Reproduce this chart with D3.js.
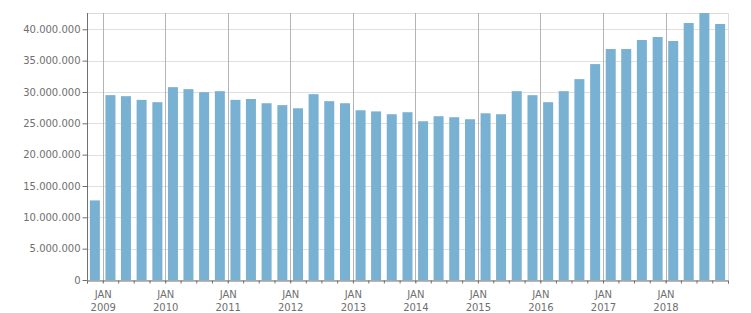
<!DOCTYPE html>
<html>
<head>
<meta charset="utf-8">
<script src="https://cdn.jsdelivr.net/npm/d3@7"></script>
<style>
  body { margin: 0; background: #fff; }
  svg text { font-family: "DejaVu Sans", Verdana, sans-serif; font-size: 10px; fill: #6f6f6f; }
</style>
</head>
<body>
<div id="chart"></div>
<script>
// quarters, Q4 2008 .. Q4 2018 (start month of each quarter)
const quarters = [];
for (let y = 2008; y <= 2018; y++) {
  for (let m = 0; m < 12; m += 3) {
    if (y === 2008 && m < 9) continue;
    quarters.push(new Date(y, m, 1));
  }
}

// values
const values = [
  12700000, 29500000, 29330000, 28740000, 28370000, 30770000, 30450000, 29970000,
  30130000, 28740000, 28880000, 28200000, 27900000, 27400000, 29650000, 28530000,
  28200000, 27080000, 26900000, 26450000, 26770000, 25330000, 26130000, 25970000,
  25650000, 26600000, 26450000, 30130000, 29490000, 28370000, 30130000, 32050000,
  34450000, 36850000, 36850000, 38290000, 38770000, 38130000, 41000000, 42600000,
  40850000
];

const yTicks = [0, 5e6, 10e6, 15e6, 20e6, 25e6, 30e6, 35e6, 40e6];
const yearTicks = d3.range(2009, 2019).map(y => new Date(y, 0, 1));

const width = 751, height = 313;
const margin = {top: 13, right: 23, bottom: 33, left: 87};

const svg = d3.select("#chart").append("svg")
  .attr("width", width)
  .attr("height", height);

const x = d3.scaleTime()
  .domain([new Date(2008, 9, 1), new Date(2019, 0, 1)])
  .range([margin.left, width - margin.right]);

const y = d3.scaleLinear()
  .domain([0, d3.max(values)])
  .range([height - margin.bottom, margin.top]);

const loc = d3.formatLocale({decimal: ",", thousands: ".", grouping: [3], currency: ["", ""]});
const fmt = loc.format(",d");

// horizontal grid
svg.append("g")
  .selectAll("line")
  .data(yTicks)
  .join("line")
  .attr("x1", margin.left).attr("x2", width - margin.right)
  .attr("y1", d => Math.round(y(d)) + 0.5).attr("y2", d => Math.round(y(d)) + 0.5)
  .attr("stroke", "#e0e0e0");

// frame top + right
svg.append("path")
  .attr("d", `M${margin.left},${margin.top + 0.5}H${width - margin.right + 0.5}V${height - margin.bottom}`)
  .attr("fill", "none")
  .attr("stroke", "#dcdcdc");

// vertical grid at january
svg.append("g")
  .selectAll("line")
  .data(yearTicks)
  .join("line")
  .attr("x1", d => Math.round(x(d)) + 0.5).attr("x2", d => Math.round(x(d)) + 0.5)
  .attr("y1", margin.top).attr("y2", height - margin.bottom + 3)
  .attr("stroke", "#b4b4b4");

// bars
svg.append("g")
  .selectAll("rect")
  .data(values)
  .join("rect")
  .attr("x", (d, i) => {
    const x0 = x(quarters[i]), x1 = x(d3.timeMonth.offset(quarters[i], 3));
    return (x0 + x1) / 2 - 5;
  })
  .attr("width", 10)
  .attr("y", d => y(d))
  .attr("height", d => y(0) - y(d))
  .attr("fill", "#79b1d3");

// y axis
const yAxis = svg.append("g")
  .attr("transform", `translate(${margin.left + 0.5},0)`)
  .call(d3.axisLeft(y).tickValues(yTicks).tickFormat(fmt).tickSize(5).tickPadding(2));
yAxis.select(".domain").attr("stroke", "#707070").attr("d", `M0,${margin.top}V${height - margin.bottom}`);
yAxis.selectAll(".tick line").attr("stroke", "#707070");

// x axis with quarter minor ticks
const xAxis = svg.append("g")
  .attr("transform", `translate(0,${height - margin.bottom + 0.5})`)
  .call(d3.axisBottom(x).ticks(d3.timeMonth.every(3)).tickSize(3).tickFormat(""));
xAxis.select(".domain").attr("stroke", "#707070");
xAxis.selectAll(".tick line").attr("stroke", "#707070");

const lbl = svg.append("g")
  .selectAll("text")
  .data(yearTicks)
  .join("text")
  .attr("text-anchor", "middle")
  .attr("x", d => x(d) + 0.5);
lbl.append("tspan").attr("x", d => x(d) + 0.5).attr("y", height - margin.bottom + 18).text("JAN");
lbl.append("tspan").attr("x", d => x(d) + 0.5).attr("y", height - margin.bottom + 31).text(d => d.getFullYear());
</script>
</body>
</html>
